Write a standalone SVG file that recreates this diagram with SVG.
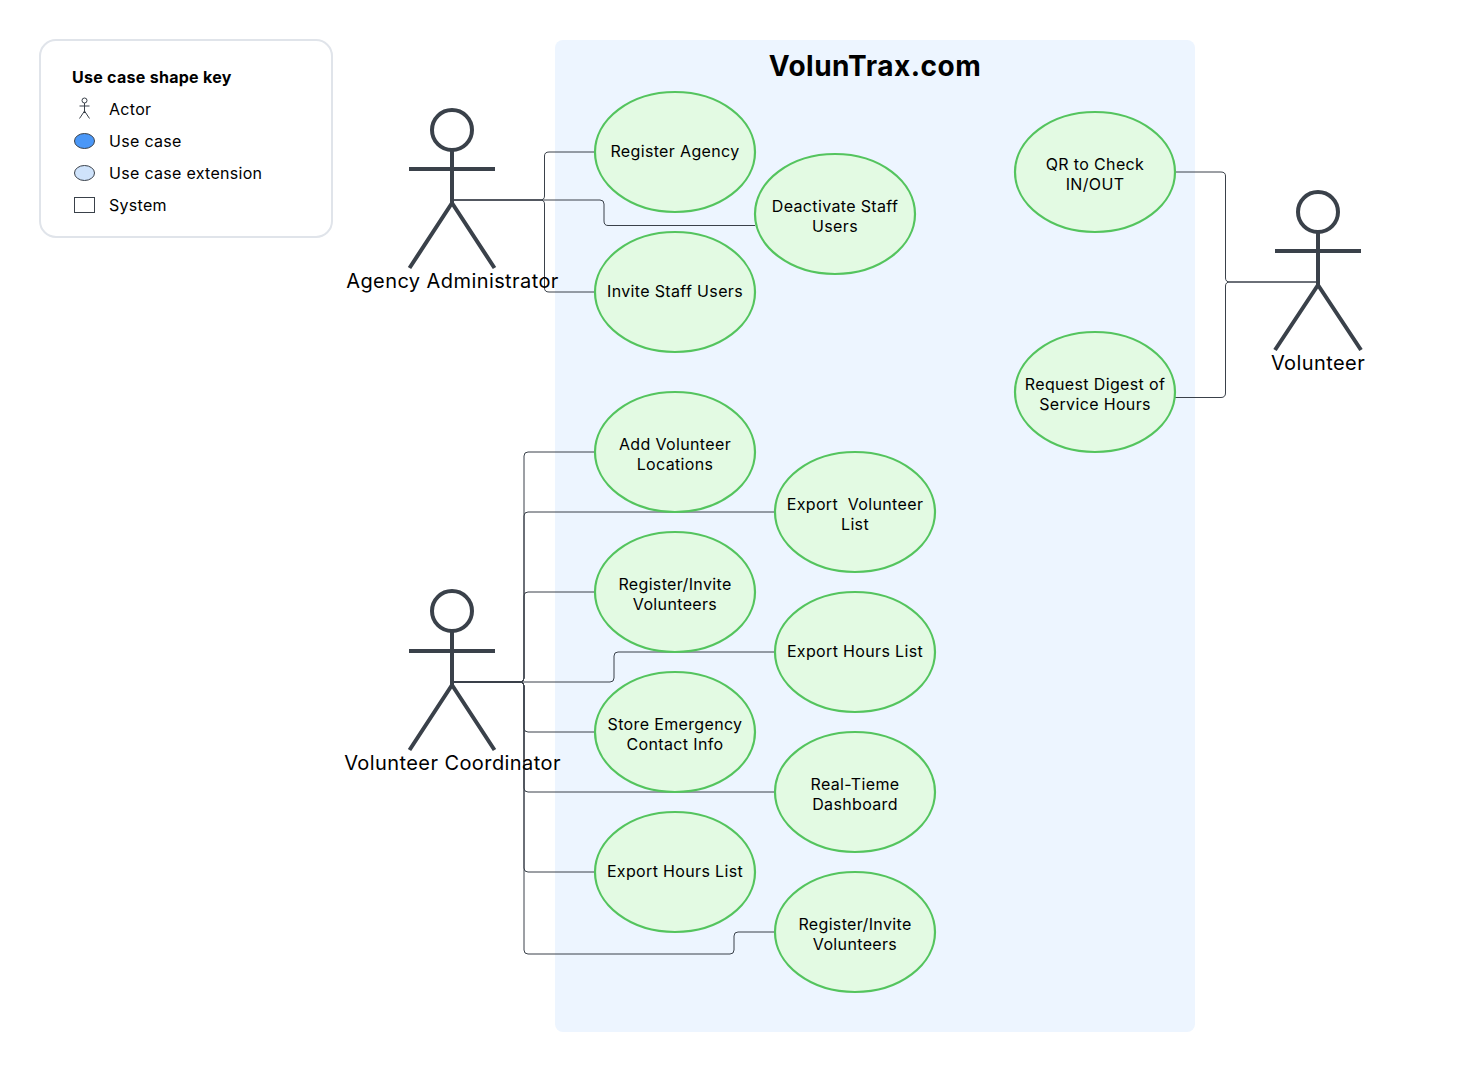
<svg xmlns="http://www.w3.org/2000/svg" width="1482" height="1072" viewBox="0 0 1482 1072">
<style>
text{font-family:Inter,"Noto Sans","Liberation Sans",sans-serif;fill:#000}
.uc ellipse{fill:#e3fae3;stroke:#54c45e;stroke-width:2.200}
.uc text{font-size:16px;text-anchor:middle;letter-spacing:.35px}
.actor path{fill:none;stroke:#3a414a;stroke-width:4}
.actor circle{fill:none;stroke:#3a414a;stroke-width:4}
.actor text{font-size:20px;text-anchor:middle;letter-spacing:.42px}
.c path{fill:none;stroke:#3a414a;stroke-width:1}
.k{font-size:16px;letter-spacing:.3px}
.ks{stroke:#3a414a;stroke-width:1}
</style>
<rect width="1482" height="1072" fill="#fff"/>
<g id="legend">
<rect x="40" y="40" width="292" height="197" rx="16" fill="#fff" stroke="#e0e4ea" stroke-width="2"/>
<text x="72" y="82.600" font-size="16" font-weight="700" letter-spacing=".28">Use case shape key</text>
<g class="ks" fill="none"><circle cx="84.500" cy="100.500" r="2.500"/><path d="M84.500 103V113M79.500 106H89.500M84.500 111L79.500 118.500M84.500 111L89.500 118.500"/></g>
<text class="k" x="109" y="114.500">Actor</text>
<ellipse class="ks" cx="84.500" cy="141" rx="10" ry="7.500" fill="#4a97f7"/>
<text class="k" x="109" y="146.500">Use case</text>
<ellipse class="ks" cx="84.500" cy="173" rx="10" ry="7.500" fill="#cfe3fb"/>
<text class="k" x="109" y="179">Use case extension</text>
<rect class="ks" x="74.500" y="197.500" width="20" height="15" fill="#fff"/>
<text class="k" x="109" y="211">System</text>
</g>
<g id="system">
<rect x="555" y="40" width="640" height="992" rx="8" fill="#edf5ff"/>
<text x="875" y="76" font-size="28" font-weight="700" text-anchor="middle" letter-spacing=".5">VolunTrax.com</text>
</g>
<g id="connectors" class="c">
<path d="M452 200H540Q544.500 200 544.500 196V156Q544.500 152 549 152H595"/>
<path d="M452 200H600Q604 200 604 204V221Q604 225.500 608 225.500H755"/>
<path d="M452 200H540Q544.500 200 544.500 204V288Q544.500 292 549 292H595"/>
<path d="M452 682H520Q524 682 524 678V456Q524 452 528 452H595"/>
<path d="M452 682H520Q524 682 524 678V516Q524 512 528 512H775"/>
<path d="M452 682H520Q524 682 524 678V596Q524 592 528 592H595"/>
<path d="M452 682H610Q614 682 614 678V656Q614 652 618 652H775"/>
<path d="M452 682H520Q524 682 524 686V728Q524 732 528 732H595"/>
<path d="M452 682H520Q524 682 524 686V788Q524 792 528 792H775"/>
<path d="M452 682H520Q524 682 524 686V868Q524 872 528 872H595"/>
<path d="M452 682H520Q524 682 524 686V950Q524 954 528 954H730Q734 954 734 950V936Q734 932 738 932H775"/>
<path d="M1318 282H1230Q1225.500 282 1225.500 278V176Q1225.500 172 1221 172H1175"/>
<path d="M1318 282H1230Q1225.500 282 1225.500 286V393Q1225.500 397.500 1221 397.500H1175"/>
</g>
<g id="agency-administrator" class="actor">
<circle cx="452" cy="130" r="20"/><path d="M452 150V203M409 169H495M452 203L409.500 268M452 203L494.500 268"/>
<text x="452.500" y="288">Agency Administrator</text>
</g>
<g id="volunteer-coordinator" class="actor">
<circle cx="452" cy="611" r="20"/><path d="M452 631V685M409 651H495M452 685L409.500 750M452 685L494.500 750"/>
<text x="452.500" y="770">Volunteer Coordinator</text>
</g>
<g id="volunteer" class="actor">
<circle cx="1318" cy="212" r="20"/><path d="M1318 232V285M1275 251H1361M1318 285L1275 350M1318 285L1361 350"/>
<text x="1318" y="370">Volunteer</text>
</g>
<g id="uc-register-agency" class="uc"><ellipse cx="675" cy="152" rx="80" ry="60"/><text x="675" y="157">Register Agency</text></g>
<g id="uc-deactivate" class="uc"><ellipse cx="835" cy="214" rx="80" ry="60"/><text x="835" y="211.600">Deactivate Staff</text><text x="835" y="231.500">Users</text></g>
<g id="uc-invite" class="uc"><ellipse cx="675" cy="292" rx="80" ry="60"/><text x="675" y="297">Invite Staff Users</text></g>
<g id="uc-qr" class="uc"><ellipse cx="1095" cy="172" rx="80" ry="60"/><text x="1095" y="169.600">QR to Check</text><text x="1095" y="189.500">IN/OUT</text></g>
<g id="uc-digest" class="uc"><ellipse cx="1095" cy="392" rx="80" ry="60"/><text x="1095" y="389.600">Request Digest of</text><text x="1095" y="409.500">Service Hours</text></g>
<g id="uc-add-locations" class="uc"><ellipse cx="675" cy="452" rx="80" ry="60"/><text x="675" y="449.600">Add Volunteer</text><text x="675" y="469.500">Locations</text></g>
<g id="uc-export-volunteer" class="uc"><ellipse cx="855" cy="512" rx="80" ry="60"/><text x="855" y="509.600" xml:space="preserve">Export  Volunteer</text><text x="855" y="529.500">List</text></g>
<g id="uc-register-invite-1" class="uc"><ellipse cx="675" cy="592" rx="80" ry="60"/><text x="675" y="589.600">Register/Invite</text><text x="675" y="609.500">Volunteers</text></g>
<g id="uc-export-hours-1" class="uc"><ellipse cx="855" cy="652" rx="80" ry="60"/><text x="855" y="657">Export Hours List</text></g>
<g id="uc-emergency" class="uc"><ellipse cx="675" cy="732" rx="80" ry="60"/><text x="675" y="729.600">Store Emergency</text><text x="675" y="749.500">Contact Info</text></g>
<g id="uc-dashboard" class="uc"><ellipse cx="855" cy="792" rx="80" ry="60"/><text x="855" y="789.600">Real-Tieme</text><text x="855" y="809.500">Dashboard</text></g>
<g id="uc-export-hours-2" class="uc"><ellipse cx="675" cy="872" rx="80" ry="60"/><text x="675" y="877">Export Hours List</text></g>
<g id="uc-register-invite-2" class="uc"><ellipse cx="855" cy="932" rx="80" ry="60"/><text x="855" y="929.600">Register/Invite</text><text x="855" y="949.500">Volunteers</text></g>
</svg>
